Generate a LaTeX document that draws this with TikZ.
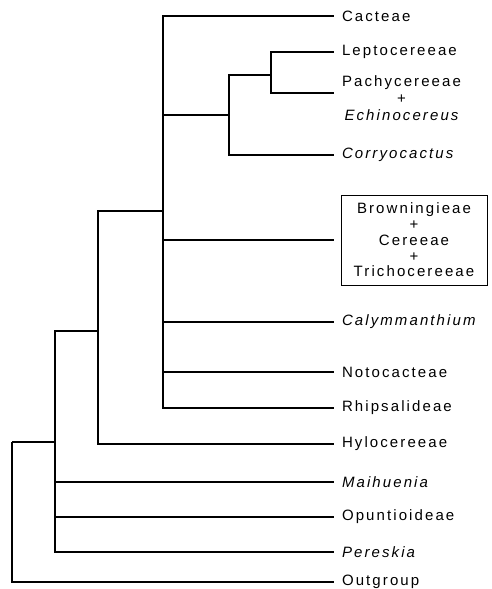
\documentclass[tikz,border=0pt]{standalone}
\usepackage{fontspec}
\setmainfont{Liberation Sans}
\newfontfamily\taxonfont[LetterSpace=14]{Liberation Sans}
\usetikzlibrary{positioning,calc}

\begin{document}
\begin{tikzpicture}[
  x=1pt, y=-1pt,
  branch/.style={line width=1.4pt},
  taxon/.style={anchor=west, inner sep=0pt, outer xsep=8pt, align=center,
                font=\fontsize{15}{17}\taxonfont},
  group/.style={draw, line width=0.7pt, anchor=west, outer xsep=7pt, align=center,
                minimum width=146pt, minimum height=90pt, inner sep=2pt,
                font=\fontsize{15}{15.8}\taxonfont}
]
\useasboundingbox (0,0) rectangle (491,589);

% ---- internal nodes (branch points) ----
\coordinate (root) at (12,442);
\coordinate (n1)   at (55,442);
\coordinate (n2)   at (98,331);
\coordinate (n3)   at (163,211);
\coordinate (n4)   at (229,115);
\coordinate (n5)   at (271,75);

% ---- terminal taxa ----
\node[taxon] (cact)  at (334,16)  {Cacteae};
\node[taxon] (lepto) at (334,52)  {Leptocereeae};
\node[taxon] (pachy) at (334,98)  {Pachycereeae\\+\\\itshape Echinocereus};
\node[taxon] (corry) at (334,155) {\itshape Corryocactus};
\node[group] (brown) at (334,240) {Browningieae\\+\\Cereeae\\+\\Trichocereeae};
\node[taxon] (calym) at (334,322) {\itshape Calymmanthium};
\node[taxon] (noto)  at (334,372) {Notocacteae};
\node[taxon] (rhips) at (334,408) {Rhipsalideae};
\node[taxon] (hylo)  at (334,444) {Hylocereeae};
\node[taxon] (maih)  at (334,482) {\itshape Maihuenia};
\node[taxon] (opun)  at (334,517) {Opuntioideae};
\node[taxon] (peres) at (334,552) {\itshape Pereskia};
\node[taxon] (outg)  at (334,582) {Outgroup};

% ---- branches ----
\draw[branch] (root) |- (n1);
\draw[branch] (root) |- (outg.west);

\draw[branch] (n1) |- (n2);
\draw[branch] (n1) |- (maih.west);
\draw[branch] (n1) |- (opun.west);
\draw[branch] (n1) |- (peres.west);

\draw[branch] (n2) |- (n3);
\draw[branch] (n2) |- (hylo.west);

\draw[branch] (n3) |- (cact.west);
\draw[branch] (n3) |- (n4);
\draw[branch] (n3) |- (brown.west);
\draw[branch] (n3) |- (calym.west);
\draw[branch] (n3) |- (noto.west);
\draw[branch] (n3) |- (rhips.west);

\draw[branch] (n4) |- (n5);
\draw[branch] (n4) |- (corry.west);

\draw[branch] (n5) |- (lepto.west);
\draw[branch] (n5) |- ([yshift=5pt]pachy.west);

\end{tikzpicture}
\end{document}
